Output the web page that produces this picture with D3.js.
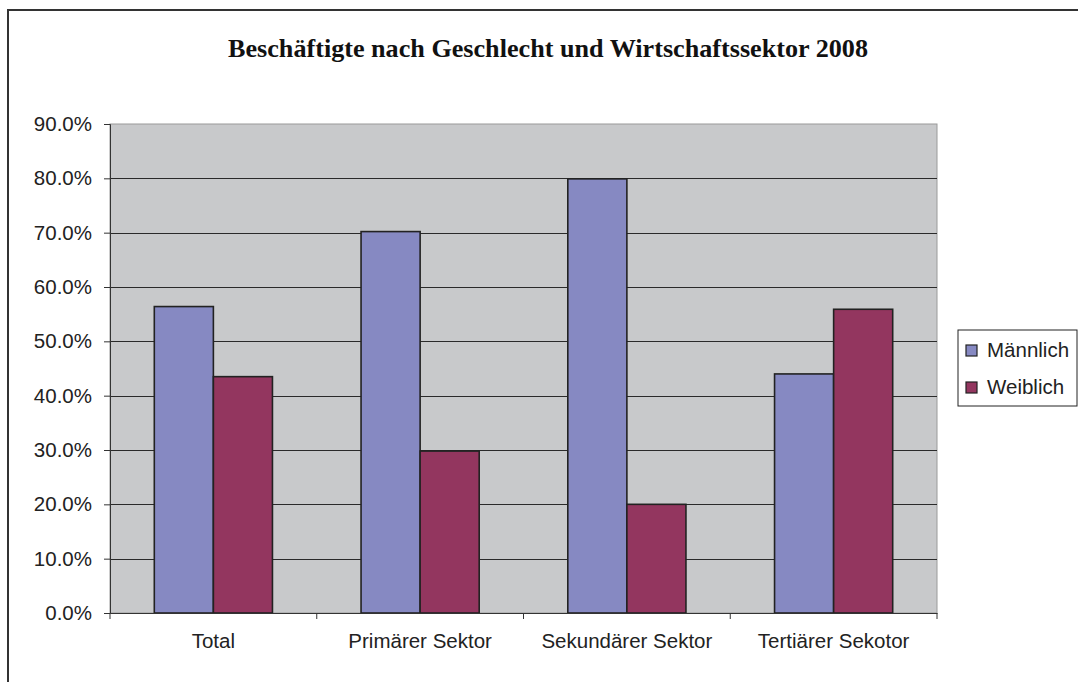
<!DOCTYPE html>
<html>
<head>
<meta charset="utf-8">
<script src="https://cdn.jsdelivr.net/npm/d3@7"></script>
<style>
  body { margin: 0; background: #fff; }
  svg { display: block; }
</style>
</head>
<body>
<div class="canva"></div>
<script>
// data
const categories = ["Total", "Primärer Sektor", "Sekundärer Sektor", "Tertiärer Sekotor"];
const seriesNames = ["Männlich", "Weiblich"];
const maleValues = [56.4, 70.2, 79.9, 44.0];
const femaleValues = [43.5, 29.8, 20.0, 55.9];
const yTicks = [0, 10, 20, 30, 40, 50, 60, 70, 80, 90];
const colors = ["#8689c2", "#93365f"];

const width = 1078, height = 682;
const plot = {left: 110, top: 124, right: 937, bottom: 613};
const labelFont = "'Liberation Sans', Arial, sans-serif";

const svg = d3.select(".canva").append("svg")
    .attr("width", width)
    .attr("height", height);

// outer chart border
svg.append("rect")
    .attr("x", 8).attr("y", 10)
    .attr("width", width + 10).attr("height", height + 10)
    .attr("fill", "none")
    .attr("stroke", "#333")
    .attr("stroke-width", 2);

// title
svg.append("text")
    .text("Beschäftigte nach Geschlecht und Wirtschaftssektor 2008")
    .attr("x", 548)
    .attr("y", 57)
    .attr("text-anchor", "middle")
    .attr("font-family", "'Liberation Serif', 'Times New Roman', serif")
    .attr("font-weight", "bold")
    .attr("font-size", 25)
    .attr("textLength", 640)
    .attr("lengthAdjust", "spacingAndGlyphs")
    .attr("fill", "#111");

const x0 = d3.scaleBand()
    .domain(categories)
    .range([plot.left, plot.right])
    .paddingInner(0)
    .paddingOuter(0);

// Excel gap width 150%
const x1 = d3.scaleBand()
    .domain(seriesNames)
    .range([0, x0.bandwidth()])
    .paddingInner(0)
    .paddingOuter(0.75);

const y = d3.scaleLinear()
    .domain([0, 90])
    .range([plot.bottom, plot.top]);

// plot area
svg.append("rect")
    .attr("x", plot.left).attr("y", plot.top)
    .attr("width", plot.right - plot.left)
    .attr("height", plot.bottom - plot.top)
    .attr("fill", "#c8c9cb")
    .attr("stroke", "#9a9a9a")
    .attr("stroke-width", 1);

// gridlines
svg.append("g")
    .selectAll("line")
    .data(yTicks.filter(d => d > 0 && d < 90))
    .join("line")
    .attr("x1", plot.left).attr("x2", plot.right)
    .attr("y1", d => Math.round(y(d)) + 0.5)
    .attr("y2", d => Math.round(y(d)) + 0.5)
    .attr("stroke", "#2a2a2a")
    .attr("stroke-width", 1);

// bars
const data = categories.map((c, i) => ({cat: c, vals: [maleValues[i], femaleValues[i]]}));
const groups = svg.append("g")
    .selectAll("g")
    .data(data)
    .join("g")
    .attr("transform", d => `translate(${x0(d.cat)},0)`);

groups.selectAll("rect")
    .data(d => d.vals.map((v, i) => ({name: seriesNames[i], v: v, i: i})))
    .join("rect")
    .attr("x", d => x1(d.name))
    .attr("y", d => y(d.v))
    .attr("width", x1.bandwidth())
    .attr("height", d => y(0) - y(d.v))
    .attr("fill", d => colors[d.i])
    .attr("stroke", "#222")
    .attr("stroke-width", 1.6);

// y axis
const yAxis = d3.axisLeft(y)
    .tickValues(yTicks)
    .tickSize(6)
    .tickFormat(d => d3.format(".1f")(d) + "%");

const yg = svg.append("g")
    .attr("transform", `translate(${plot.left},0)`)
    .call(yAxis);
yg.select(".domain").attr("stroke", "#333");
yg.selectAll(".tick line").attr("stroke", "#333");
yg.selectAll(".tick text")
    .attr("x", -18)
    .attr("font-family", labelFont)
    .attr("font-size", 20.5)
    .attr("fill", "#222");

// x axis
const xg = svg.append("g")
    .attr("transform", `translate(0,${plot.bottom})`)
    .call(d3.axisBottom(x0).tickSize(0).tickPadding(20));
xg.select(".domain").attr("stroke", "#333");
xg.selectAll(".tick text")
    .attr("font-family", labelFont)
    .attr("font-size", 20.5)
    .attr("fill", "#222");
xg.selectAll(".sep")
    .data(categories.concat(["end"]))
    .join("line")
    .attr("class", "sep")
    .attr("x1", (d, i) => i < categories.length ? x0(d) : plot.right)
    .attr("x2", (d, i) => i < categories.length ? x0(d) : plot.right)
    .attr("y1", 0).attr("y2", 6)
    .attr("stroke", "#333");

// legend
const legend = svg.append("g").attr("transform", "translate(958,330)");
legend.append("rect")
    .attr("width", 119).attr("height", 76)
    .attr("fill", "#fff")
    .attr("stroke", "#222")
    .attr("stroke-width", 1);
const items = legend.selectAll("g.item")
    .data(seriesNames)
    .join("g")
    .attr("class", "item")
    .attr("transform", (d, i) => `translate(8,${20 + i * 37})`);
items.append("rect")
    .attr("x", 0).attr("y", -5)
    .attr("width", 11).attr("height", 11)
    .attr("fill", (d, i) => colors[i])
    .attr("stroke", "#222")
    .attr("stroke-width", 1.2);
items.append("text")
    .text(d => d)
    .attr("x", 21)
    .attr("y", 0)
    .attr("dy", "0.35em")
    .attr("font-family", labelFont)
    .attr("font-size", 20.5)
    .attr("fill", "#222");
</script>
</body>
</html>
